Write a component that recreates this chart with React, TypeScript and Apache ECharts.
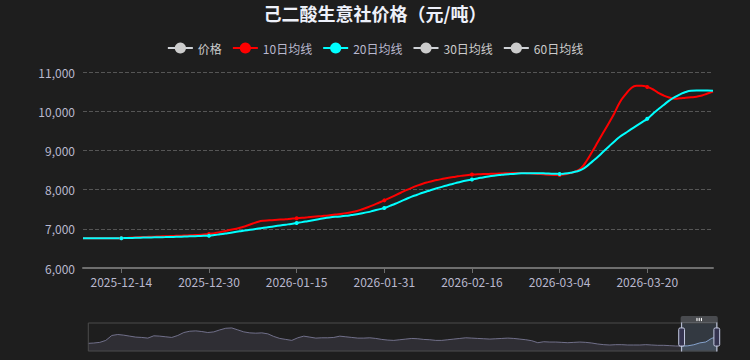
import React, { useEffect, useRef } from "react";
import * as echarts from "echarts";

// ---- data ----
const TITLE = "己二酸生意社价格（元/吨）";
const legendNames = ["价格", "10日均线", "20日均线", "30日均线", "60日均线"];
const START_DATE = "2025-12-07";
const DAY_COUNT = 116;

// 10-day moving average, one value per day from 2025-12-07
const ma10 = [
  6760, 6760, 6760, 6760, 6760, 6760, 6760, 6762,
  6768, 6775, 6785, 6790, 6795, 6800, 6805, 6810, 6815, 6820, 6825, 6830, 6838, 6845, 6855, 6865,
  6890, 6915, 6945, 6975, 7000, 7040, 7085, 7135, 7180, 7205, 7215, 7225, 7235, 7245, 7258, 7270,
  7280, 7292, 7305, 7318, 7330, 7345, 7362, 7380, 7400, 7425, 7455, 7500, 7550, 7605, 7665, 7725,
  7790, 7855, 7920, 7985, 8045, 8100, 8150, 8190, 8225, 8255, 8285, 8310, 8330, 8350, 8368, 8383,
  8390, 8395, 8400, 8405, 8410, 8415, 8420, 8425, 8425, 8420, 8410, 8400, 8390, 8380, 8375, 8375,
  8390, 8420, 8470, 8560, 8750, 8980, 9220, 9460, 9700, 9950, 10230, 10420, 10580, 10650, 10650, 10620,
  10560, 10470, 10400, 10350, 10320, 10330, 10345, 10355, 10370, 10400, 10450, 10500,
];

// 20-day moving average
const ma20 = [
  6760, 6760, 6758, 6758, 6758, 6760, 6760, 6760,
  6765, 6768, 6772, 6775, 6778, 6782, 6785, 6788, 6792, 6795, 6800, 6805, 6810, 6815, 6820, 6825,
  6840, 6860, 6880, 6900, 6925, 6945, 6965, 6985, 7005, 7025, 7045, 7065, 7085, 7105, 7125, 7150,
  7170, 7195, 7220, 7245, 7270, 7290, 7305, 7315, 7330, 7350, 7370, 7395, 7425, 7460, 7495, 7530,
  7585, 7640, 7700, 7760, 7820, 7870, 7920, 7965, 8010, 8050, 8090, 8130, 8165, 8200, 8230, 8255,
  8285, 8310, 8335, 8355, 8370, 8385, 8395, 8405, 8415, 8420, 8420, 8420, 8415, 8410, 8405, 8400,
  8410, 8430, 8460, 8510, 8600, 8720, 8840, 8970, 9100, 9230, 9350, 9440, 9535, 9625, 9715, 9805,
  9930, 10050, 10160, 10270, 10360, 10430, 10490, 10520, 10525, 10525, 10525, 10520,
];

// long history (coarse samples) shown only in the slider's data shadow
const historyShadow = [
  7860, 8000, 8270, 9070, 11080, 11480, 11210, 10810, 10410, 10280,
  10010, 10950, 10810, 10540, 10280, 11080, 12290, 12820, 12960, 12690,
  12290, 12550, 13360, 14030, 14160, 13360, 12550, 12150, 12020, 12150,
  11750, 10680, 9870, 9470, 9070, 10140, 10810, 10410, 10010, 10140,
  10140, 10280, 10810, 10540, 10280, 10010, 10010, 10140, 9870, 9470,
  9200, 9070, 9340, 9610, 9870, 9740, 9470, 9340, 9070, 9070,
  9340, 9610, 9870, 10140, 10010, 9870, 9740, 9610, 9740, 9870,
  10010, 9870, 9610, 9340, 8940, 8130, 8530, 8400, 8400, 8270,
  8130, 8270, 8400, 8270, 8000, 7600, 7330, 7190, 7330, 7330,
  7190, 7190, 7190, 7330, 7190, 7060, 7060, 6930, 6790,
  6760, 6855, 7290, 8050, 8420, 9950, 10500,
];
const historyLabels = historyShadow.map((_, i) => String(i));

const Y_MIN = 6000;
const Y_MAX = 11000;
const Y_STEP = 1000;
const LABEL_OFFSET = 7; // first labelled day: 2025-12-14
const LABEL_STEP = 16;
const ZOOM_START = 94.1;
const ZOOM_END = 100;

function buildDates(start: string, n: number): string[] {
  const out: string[] = [];
  const t0 = new Date(start + "T00:00:00Z").getTime();
  for (let i = 0; i < n; i++) {
    out.push(new Date(t0 + i * 86400000).toISOString().slice(0, 10));
  }
  return out;
}
const dates = buildDates(START_DATE, DAY_COUNT);

const FONT = "'Noto Sans CJK SC', 'Noto Sans', sans-serif";
const LABEL_COLOR = "#B9B8CE";

export default function App() {
  const ref = useRef<HTMLDivElement | null>(null);
  useEffect(() => {
    if (!ref.current) return;
    const chart = echarts.init(ref.current, null, { renderer: "svg" });
    const showIdx = (i: number) => i >= LABEL_OFFSET && (i - LABEL_OFFSET) % LABEL_STEP === 0;
    const hiddenSeries = (name: string) => ({
      name,
      type: "line",
      data: [],
      symbol: "circle",
      symbolSize: 4,
      color: "#ccc",
    });
    chart.setOption({
      animation: false,
      backgroundColor: "#1e1e1e",
      textStyle: { fontFamily: FONT },
      title: {
        text: TITLE,
        left: "center",
        top: -1,
        textStyle: { color: "#EEF1FA", fontSize: 18, fontWeight: "bold", fontFamily: FONT },
      },
      legend: {
        data: legendNames,
        top: 37,
        left: "center",
        itemWidth: 25,
        itemHeight: 14,
        itemGap: 10,
        inactiveColor: "#ccc",
        textStyle: { color: LABEL_COLOR, fontSize: 12 },
        selected: { 价格: false, "30日均线": false, "60日均线": false },
      },
      grid: { left: 83, right: 37, top: 72, bottom: 92, containLabel: false },
      xAxis: [
        {
          type: "category",
          data: dates,
          boundaryGap: false,
          axisLine: { lineStyle: { color: "#6E6E6E", width: 2 } },
          axisTick: { show: true, interval: (i: number) => showIdx(i), lineStyle: { color: "#6E6E6E" } },
          axisLabel: { interval: (i: number) => showIdx(i), color: LABEL_COLOR, fontSize: 12, margin: 7 },
          splitLine: { show: false },
        },
        {
          type: "category",
          data: historyLabels,
          show: false,
          boundaryGap: false,
        },
      ],
      yAxis: [
        {
          type: "value",
          min: Y_MIN,
          max: Y_MAX,
          interval: Y_STEP,
          axisLine: { show: false },
          axisTick: { show: false },
          axisLabel: { color: LABEL_COLOR, fontSize: 12 },
          splitLine: { lineStyle: { color: "#555", type: "dashed" } },
        },
        { type: "value", show: false, scale: true },
      ],
      dataZoom: [
        {
          type: "slider",
          xAxisIndex: 1,
          start: ZOOM_START,
          end: ZOOM_END,
          left: 85,
          right: 35,
          bottom: 15,
          height: 29,
          showDetail: false,
          borderColor: "#4a4a4a",
          backgroundColor: "rgba(0,0,0,0)",
          fillerColor: "rgba(135,163,206,0.2)",
          handleIcon:
            "path://M-9.35,34.56V42m0-40V9.5m-2,0h4a2,2,0,0,1,2,2v21a2,2,0,0,1-2,2h-4a2,2,0,0,1-2-2v-21A2,2,0,0,1-11.35,9.5Z",
          handleSize: "100%",
          handleStyle: { color: "#353450", borderColor: "#C5CBE3" },
          moveHandleSize: 7,
          moveHandleStyle: { color: "#B0B6C3", opacity: 0.3 },
          dataBackground: {
            lineStyle: { color: "#71708A", width: 1 },
            areaStyle: { color: "#71708A", opacity: 0.2 },
          },
          selectedDataBackground: {
            lineStyle: { color: "#87A3CE", width: 1 },
            areaStyle: { color: "#87A3CE", opacity: 0.2 },
          },
          textStyle: { color: LABEL_COLOR },
        },
      ],
      series: [
        hiddenSeries("价格"),
        {
          name: "10日均线",
          type: "line",
          data: ma10,
          smooth: true,
          symbol: "circle",
          symbolSize: 4,
          color: "#ff0000",
          lineStyle: { width: 2, color: "#ff0000" },
          itemStyle: { color: "#ff0000" },
        },
        {
          name: "20日均线",
          type: "line",
          data: ma20,
          smooth: true,
          symbol: "circle",
          symbolSize: 4,
          color: "#00ffff",
          lineStyle: { width: 2, color: "#00ffff" },
          itemStyle: { color: "#00ffff" },
        },
        hiddenSeries("30日均线"),
        hiddenSeries("60日均线"),
        {
          name: "历史",
          type: "line",
          xAxisIndex: 1,
          yAxisIndex: 1,
          data: historyShadow,
          showSymbol: false,
          silent: true,
          lineStyle: { opacity: 0 },
          z: 0,
        },
      ],
    });
    return () => chart.dispose();
  }, []);
  return (
    <div
      ref={ref}
      style={{ position: "fixed", left: 0, top: 0, width: 750, height: 360 }}
    />
  );
}
